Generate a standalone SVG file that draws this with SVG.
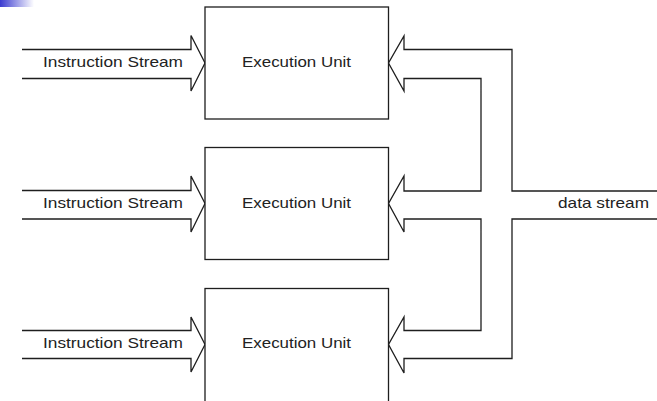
<svg xmlns="http://www.w3.org/2000/svg" width="657" height="401" viewBox="0 0 657 401">
<defs>
<linearGradient id="corner" x1="0" y1="0" x2="1" y2="0">
<stop offset="0" stop-color="#3b3bd0"/>
<stop offset="1" stop-color="#ffffff"/>
</linearGradient>
<style>
.box{fill:#ffffff;stroke:#1e1e1e;stroke-width:1.3}
.conn{fill:none;stroke:#1e1e1e;stroke-width:1.3;stroke-linejoin:miter}
.lbl{font-family:"Liberation Sans",Arial,sans-serif;font-size:15px;fill:#222222}
</style>
</defs>
<rect x="0" y="0" width="657" height="401" fill="#ffffff"/>
<rect x="0" y="0" width="34" height="7" fill="url(#corner)"/>
<g id="connectors">
<path class="conn" d="M22,49.5 H191 V35.5 L205,63 L191,91 V78.5 H22"/>
<path class="conn" d="M22,190.5 H191 V176 L205,203.5 L191,232 V219 H22"/>
<path class="conn" d="M22,330.5 H191 V317 L205,344.5 L191,372 V358.5 H22"/>
<path class="conn" d="M657,191 H512 V49.5 H404 V36 L388.5,63 L404,91 V78.5 H481 V191 H404 V176 L388.5,203.5 L404,232 V219 H481 V330.5 H404 V317 L388.5,344.5 L404,373 V358.5 H512 V219 H657"/>
</g>
<g id="box1">
<rect class="box" x="205" y="7" width="183.5" height="112"/>
<text class="lbl" x="242" y="67" textLength="109" lengthAdjust="spacingAndGlyphs">Execution Unit</text>
</g>
<g id="box2">
<rect class="box" x="205" y="147.5" width="183.5" height="112"/>
<text class="lbl" x="242" y="207.5" textLength="109" lengthAdjust="spacingAndGlyphs">Execution Unit</text>
</g>
<g id="box3">
<rect class="box" x="205" y="288.5" width="183.5" height="130"/>
<text class="lbl" x="242" y="348" textLength="109" lengthAdjust="spacingAndGlyphs">Execution Unit</text>
</g>
<g id="labels">
<text class="lbl" x="43" y="67" textLength="140" lengthAdjust="spacingAndGlyphs">Instruction Stream</text>
<text class="lbl" x="43" y="207.5" textLength="140" lengthAdjust="spacingAndGlyphs">Instruction Stream</text>
<text class="lbl" x="43" y="348" textLength="140" lengthAdjust="spacingAndGlyphs">Instruction Stream</text>
<text class="lbl" x="558" y="207.5" textLength="91" lengthAdjust="spacingAndGlyphs">data stream</text>
</g>
</svg>
